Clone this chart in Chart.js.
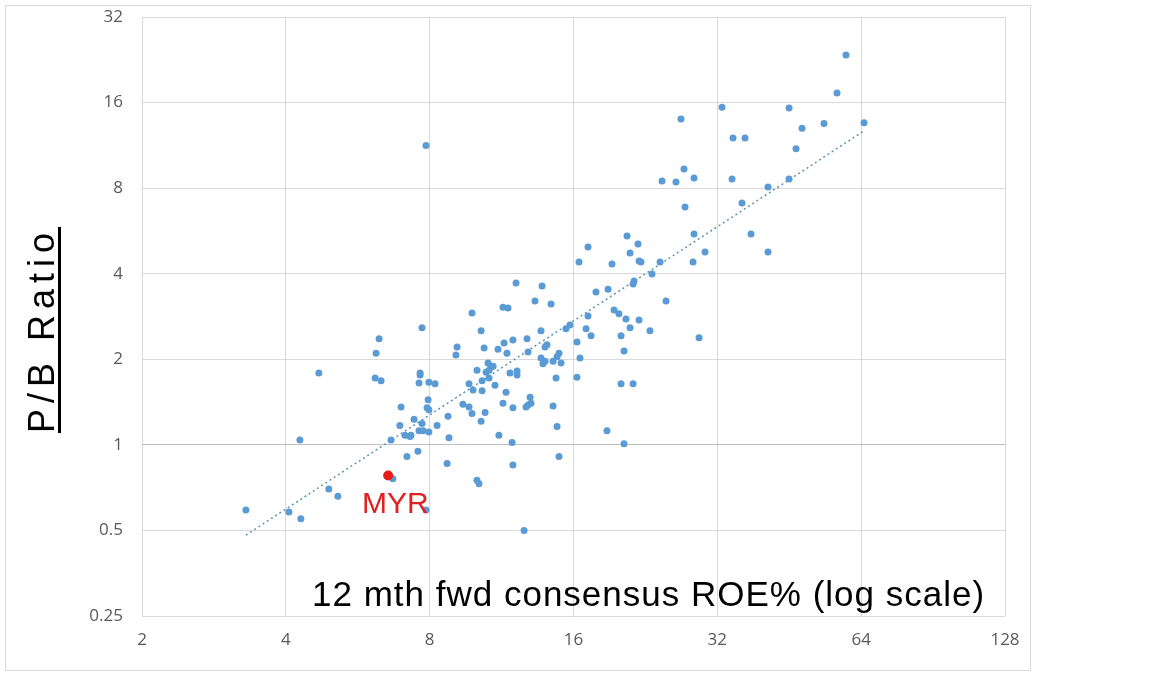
<!DOCTYPE html>
<html>
<head>
<meta charset="utf-8">
<script src="https://cdn.jsdelivr.net/npm/chart.js@4"></script>
<style>
  body { margin: 0; background: #fff; }
  #wrap { position: relative; width: 1152px; height: 676px; }
  .note { position: absolute; font-family: "Liberation Sans", sans-serif; white-space: nowrap; }
  #xnote { left: 312px; top: 574px; font-size: 35px; letter-spacing: 1px; color: #000; }
  #ynote { left: 42px; top: 330px; font-size: 36px; letter-spacing: 6px; color: #000; transform: translate(-50%, -50%) rotate(-90deg);
           text-decoration: underline; text-decoration-thickness: 3px; text-underline-offset: 4px; }
  #myr { left: 362px; top: 486px; font-size: 30px; color: #e02020; }
</style>
</head>
<body>
<div id="wrap">
  <canvas id="myChart" width="1152" height="676"></canvas>
  <div class="note" id="ynote">P/B Ratio</div>
  <div class="note" id="xnote">12 mth fwd consensus ROE% (log scale)</div>
  <div class="note" id="myr">MYR</div>
</div>
<script>
const ctx = document.getElementById('myChart');

// 12m fwd ROE % (x) and P/B ratio (y), one pair per stock
const roe = [
    3.30, 4.06, 4.30, 4.28, 4.92, 5.14, 4.69, 6.18, 6.27, 6.15, 6.33, 6.70, 6.97, 6.93, 6.64, 7.17, 7.10, 7.28, 7.31, 7.42,
    7.56, 7.60, 7.75, 7.97, 7.71, 7.60, 7.64, 7.64, 7.97, 7.94, 7.90, 7.97, 7.71, 7.86, 7.86, 8.21, 8.29, 8.74, 8.78, 8.70,
    9.81, 11.39, 11.67, 13.29, 14.36, 17.83, 10.25, 9.13, 9.08, 10.40, 11.12, 11.45, 11.95, 11.61, 12.79, 12.85, 13.68, 13.95, 14.08, 15.43,
    15.73, 17.16, 17.00, 17.41, 16.27, 16.51, 16.27, 13.68, 13.95, 13.81, 14.50, 14.78, 14.92, 15.07, 14.71, 14.50, 14.78, 14.92,
    10.05, 10.60, 10.75, 10.86, 10.50, 10.65, 10.65, 10.30, 9.67, 9.86, 10.30, 10.96, 11.78, 12.19, 12.19, 11.56, 9.39, 9.67, 9.81, 10.45,
    10.25, 11.39, 11.95, 12.98, 13.04, 12.85, 12.73, 11.17, 11.90, 11.95, 10.05, 10.15, 12.61, 12.13, 13.75,
    20.71, 17.16, 16.43, 19.26, 21.83, 21.01, 21.94, 22.15, 24.28, 28.60, 28.46, 30.15, 23.36, 21.42, 21.32, 24.99, 18.90, 19.45, 19.92, 20.60,
    21.94, 21.01, 23.13, 29.30, 20.12, 20.41, 20.12, 21.32, 18.80, 20.41,
    59.50, 56.97, 32.73, 45.21, 26.86, 64.88, 48.13, 53.51, 34.51, 36.57, 46.76, 27.25, 24.51, 26.22, 28.60, 34.35, 45.21, 40.85, 27.39, 36.04,
    37.64, 40.85
];
const pb = [
    0.59, 0.58, 0.55, 1.04, 0.70, 0.66, 1.79, 2.10, 2.36, 1.72, 1.68, 0.76, 1.36, 1.17, 1.04, 0.91, 1.08, 1.07, 1.08, 1.23,
    0.95, 1.12, 1.12, 1.11, 1.19, 1.65, 1.79, 1.76, 1.66, 1.44, 1.35, 1.33, 2.58, 0.59, 11.3, 1.64, 1.17, 1.26, 1.06, 0.86,
    2.91, 3.05, 3.03, 3.21, 3.13, 3.45, 2.52, 2.21, 2.07, 2.19, 2.17, 2.28, 2.34, 2.10, 2.36, 2.12, 2.52, 2.21, 2.25, 2.56,
    2.64, 2.84, 2.56, 2.42, 2.30, 2.02, 1.73, 2.02, 1.97, 1.93, 1.97, 2.04, 2.10, 1.94, 1.72, 1.37, 1.16, 0.91,
    1.83, 1.94, 1.88, 1.89, 1.80, 1.83, 1.72, 1.68, 1.64, 1.56, 1.55, 1.62, 1.79, 1.82, 1.76, 1.53, 1.39, 1.36, 1.29, 1.30,
    1.21, 1.40, 1.35, 1.47, 1.40, 1.38, 1.36, 1.08, 1.02, 0.85, 0.75, 0.73, 0.50, 3.71, 3.62,
    5.43, 4.97, 4.40, 4.33, 5.09, 4.73, 4.43, 4.40, 4.40, 5.52, 4.40, 4.77, 3.99, 3.77, 3.68, 3.21, 3.53, 2.98, 2.89, 2.77,
    2.75, 2.58, 2.52, 2.38, 2.42, 2.14, 1.64, 1.64, 1.12, 1.01,
    23.5, 17.3, 15.4, 15.3, 14.0, 13.6, 13.0, 13.5, 12.0, 12.0, 11.0, 9.34, 8.48, 8.41, 8.68, 8.61, 8.61, 8.07, 6.87, 7.09,
    5.52, 4.77
];
const myrRoe = [6.55];
const myrPb = [0.78];

const xTicks = [2, 4, 8, 16, 32, 64, 128];
const yTicks = [0.25, 0.5, 1, 2, 4, 8, 16, 32];

const points = roe.map((x, i) => ({ x: x, y: pb[i] }));

// power trendline (least squares in log-log space), drawn across the data range
const lx = roe.map(v => Math.log(v));
const ly = pb.map(v => Math.log(v));
const n = lx.length;
const mx = lx.reduce((a, b) => a + b, 0) / n;
const my = ly.reduce((a, b) => a + b, 0) / n;
let sxy = 0, sxx = 0;
for (let i = 0; i < n; i++) {
    sxy += (lx[i] - mx) * (ly[i] - my);
    sxx += (lx[i] - mx) * (lx[i] - mx);
}
const slope = sxy / sxx;
const icpt = my - slope * mx;
const xMin = Math.min(...roe), xMax = Math.max(...roe);
const trend = [xMin, xMax].map(x => ({ x: x, y: Math.exp(icpt) * Math.pow(x, slope) }));

const frame = {
    id: 'frame',
    beforeDraw(chart) {
        const c = chart.ctx;
        c.save();
        c.fillStyle = '#fff';
        c.fillRect(0, 0, chart.width, chart.height);
        c.strokeStyle = '#d9d9d9';
        c.lineWidth = 1;
        c.strokeRect(5.5, 5.5, 1025, 665);
        c.restore();
    }
};

const tickFont = { family: '"Open Sans", "Liberation Sans", sans-serif', size: 17 };

new Chart(ctx, {
    type: 'scatter',
    data: {
        datasets: [
            {
                label: 'Trend',
                type: 'line',
                data: trend,
                borderColor: '#5f93b3',
                borderWidth: 1.5,
                borderDash: [2, 3],
                pointRadius: 0,
                fill: false,
                order: 3
            },
            {
                label: 'Stocks',
                data: points,
                backgroundColor: '#5b9bd5',
                borderColor: '#5b9bd5',
                pointRadius: 3.5,
                borderWidth: 0,
                order: 2
            },
            {
                label: 'MYR',
                data: myrRoe.map((x, i) => ({ x: x, y: myrPb[i] })),
                backgroundColor: '#e51c1c',
                borderColor: '#e51c1c',
                pointRadius: 5,
                borderWidth: 0,
                order: 1
            }
        ]
    },
    options: {
        responsive: false,
        animation: false,
        layout: { padding: { left: 5, top: 17, right: 147, bottom: 6 } },
        plugins: {
            legend: { display: false },
            tooltip: { enabled: false }
        },
        scales: {
            x: {
                type: 'logarithmic',
                min: 2,
                max: 128,
                afterBuildTicks: (axis) => { axis.ticks = xTicks.map(v => ({ value: v })); },
                afterFit: (scale) => {
                    scale.height = 54;
                    scale.paddingLeft = 0;
                    scale.paddingRight = 0;
                },
                grid: { color: '#d9d9d9', drawTicks: false },
                border: { display: false },
                ticks: {
                    color: '#595959',
                    font: tickFont,
                    padding: 14,
                    maxRotation: 0,
                    autoSkip: false,
                    callback: (value) => String(value)
                }
            },
            y: {
                type: 'logarithmic',
                min: 0.25,
                max: 32,
                afterBuildTicks: (axis) => { axis.ticks = yTicks.map(v => ({ value: v })); },
                afterFit: (scale) => {
                    scale.width = 137;
                    scale.paddingTop = 0;
                    scale.paddingBottom = 0;
                },
                grid: {
                    color: (c) => (c.tick && c.tick.value === 1 ? '#bfbfbf' : '#d9d9d9'),
                    drawTicks: false
                },
                border: { display: false },
                ticks: {
                    color: '#595959',
                    font: tickFont,
                    padding: 19,
                    autoSkip: false,
                    callback: (value) => String(value)
                }
            }
        }
    },
    plugins: [frame]
});
</script>
</body>
</html>
